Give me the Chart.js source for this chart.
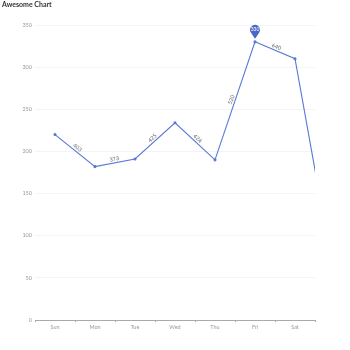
<!DOCTYPE html>
<html>
<head>
<meta charset="utf-8">
<style>
html, body { margin: 0; padding: 0; background: #fff; }
#wrap { width: 350px; height: 350px; }
</style>
<script src="https://cdn.jsdelivr.net/npm/chart.js@4"></script>
</head>
<body>
<div id="wrap"><canvas id="chart"></canvas></div>
<script>
const titleText = 'Awesome Chart';
const days = ['Sun', 'Mon', 'Tue', 'Wed', 'Thu', 'Fri', 'Sat', ''];
const values = [220, 182, 191, 234, 190, 330, 310, 46];
const edgeLabels = ['403', '373', '425', '424', '520', '640'];
const pinIndex = 5;
const pinLabel = '330';
const lastDay = 6;
const fontName = 'Lato, "Noto Sans", sans-serif';
const blue = '#5a78d4';

// text along each line segment, and the pin over the peak
const overlay = {
    id: 'overlay',
    afterDatasetsDraw(chart) {
        const ctx = chart.ctx;
        const pts = chart.getDatasetMeta(0).data;
        ctx.save();
        ctx.font = '5.5px ' + fontName;
        ctx.fillStyle = '#666';
        ctx.textAlign = 'center';
        ctx.textBaseline = 'bottom';
        edgeLabels.forEach((label, i) => {
            const a = pts[i], b = pts[i + 1];
            ctx.save();
            ctx.translate((a.x + b.x) / 2, (a.y + b.y) / 2);
            ctx.rotate(Math.atan2(b.y - a.y, b.x - a.x));
            ctx.fillText(label, 0, -1);
            ctx.restore();
        });

        const p = pts[pinIndex];
        const cy = p.y - 12;
        ctx.fillStyle = '#4a67c4';
        ctx.beginPath();
        ctx.arc(p.x, cy, 5, Math.PI * 0.85, Math.PI * 0.15);
        ctx.quadraticCurveTo(p.x + 2, cy + 6, p.x, p.y - 3);
        ctx.quadraticCurveTo(p.x - 2, cy + 6, p.x - 4.75, cy + 1.55);
        ctx.fill();
        ctx.fillStyle = '#fff';
        ctx.font = '5px ' + fontName;
        ctx.textBaseline = 'middle';
        ctx.fillText(pinLabel, p.x, cy);
        ctx.restore();
    }
};

new Chart(document.getElementById('chart'), {
    type: 'line',
    data: {
        labels: days,
        datasets: [{
            data: values,
            borderColor: blue,
            backgroundColor: blue,
            borderWidth: 1.1,
            pointRadius: 1,
            pointHoverRadius: 1,
            tension: 0,
            clip: 0
        }]
    },
    plugins: [overlay],
    options: {
        responsive: true,
        maintainAspectRatio: false,
        animation: false,
        layout: { padding: { left: 2, right: 35, top: 0, bottom: 0 } },
        plugins: {
            legend: { display: false },
            tooltip: { enabled: false },
            title: {
                display: true,
                text: titleText,
                align: 'start',
                color: '#333',
                font: { family: fontName, size: 7, weight: 'bold' },
                padding: { top: 1, bottom: 15.6 }
            }
        },
        scales: {
            x: {
                offset: true,
                // cut the axis after Sat here, so the last segment still runs off the plot
                afterDataLimits(axis) { axis.max = lastDay; },
                afterFit(axis) { axis.height = 30; },
                border: { color: '#aaa', width: 1 },
                grid: { offset: true, drawOnChartArea: false, drawTicks: true, tickLength: 2, tickColor: '#aaa' },
                ticks: { color: '#999', font: { family: fontName, size: 5.5 }, padding: 2, maxRotation: 0, autoSkip: false }
            },
            y: {
                min: 0,
                max: 350,
                afterFit(axis) { axis.width = 33; },
                border: { display: false },
                grid: { color: '#f0f1f6', lineWidth: 0.8, drawTicks: false },
                ticks: { stepSize: 50, color: '#999', font: { family: fontName, size: 5.5 }, padding: 3 }
            }
        }
    }
});
</script>
</body>
</html>
